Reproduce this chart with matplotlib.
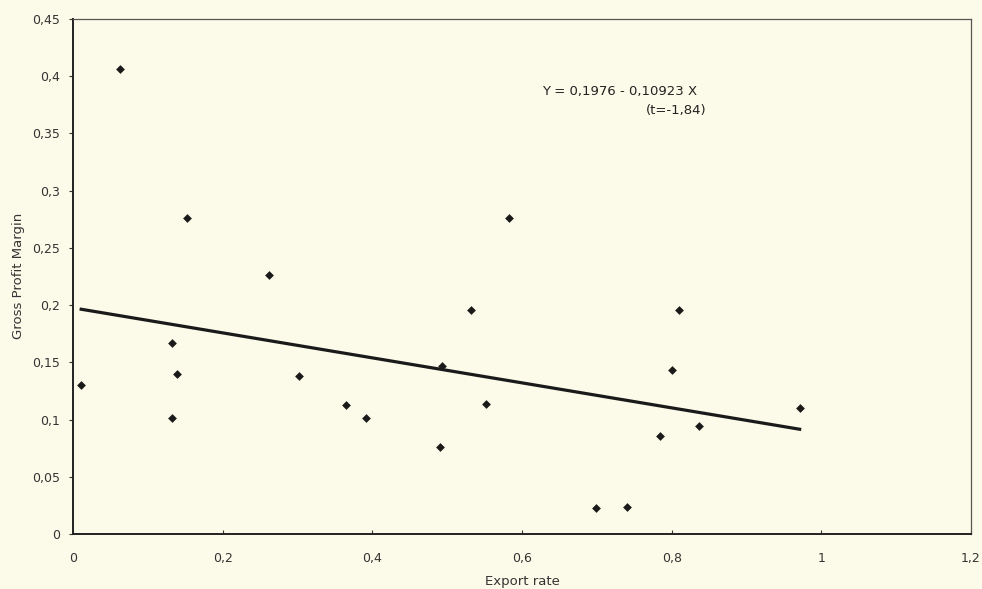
import matplotlib
matplotlib.use("Agg")
import matplotlib.pyplot as plt
import numpy as np

plt.rcParams['font.family'] = ['DejaVu Sans']

export_rate = [0.063, 0.153, 0.262, 0.011, 0.132, 0.139, 0.132, 0.302, 0.365,
               0.392, 0.493, 0.491, 0.532, 0.552, 0.583, 0.810, 0.800, 0.971,
               0.837, 0.784, 0.699, 0.740]
gross_margin = [0.406, 0.276, 0.226, 0.130, 0.167, 0.140, 0.101, 0.138, 0.113,
                0.101, 0.147, 0.076, 0.196, 0.114, 0.276, 0.196, 0.143, 0.110,
                0.094, 0.086, 0.023, 0.024]
intercept = 0.1976
slope = -0.10923
x_ticks = [0, 0.2, 0.4, 0.6, 0.8, 1.0, 1.2]
x_tick_labels = ["0", "0,2", "0,4", "0,6", "0,8", "1", "1,2"]
y_ticks = [0, 0.05, 0.1, 0.15, 0.2, 0.25, 0.3, 0.35, 0.4, 0.45]
y_tick_labels = ["0", "0,05", "0,1", "0,15", "0,2", "0,25", "0,3", "0,35", "0,4", "0,45"]

bg = "#fcfae8"
fig = plt.figure(figsize=(9.82, 5.89), dpi=100, facecolor=bg)
ax = fig.add_axes([0.0743, 0.0934, 0.9145, 0.8743], facecolor=bg)

ax.scatter(export_rate, gross_margin, marker="D", s=20, color="#1a1a1a", zorder=3, linewidths=0)
xl = np.array([min(export_rate), max(export_rate)])
ax.plot(xl, intercept + slope * xl, color="#1a1a1a", lw=2.3, zorder=2)

ax.set_xlim(0, 1.2)
ax.set_ylim(0, 0.45)
ax.set_xticks(x_ticks)
ax.set_xticklabels(x_tick_labels)
ax.set_yticks(y_ticks)
ax.set_yticklabels(y_tick_labels)
ax.tick_params(axis="x", direction="in", length=3, pad=13, labelsize=9, colors="#333333")
ax.tick_params(axis="y", direction="out", length=3, pad=6, labelsize=9, colors="#333333")

for side in ["left", "bottom"]:
    ax.spines[side].set_color("#222222")
    ax.spines[side].set_linewidth(1.4)
for side in ["top", "right"]:
    ax.spines[side].set_color("#555555")
    ax.spines[side].set_linewidth(0.9)

fig.text(522 / 982, (589 - 585) / 589, "Export rate", fontsize=9.5, color="#333333",
         ha="center", va="baseline")
fig.text(19 / 982, (589 - 276) / 589, "Gross Profit Margin", fontsize=9.5, color="#333333",
         ha="center", va="center", rotation=90)

ax.text(0.627, 0.387, "Y = 0,1976 - 0,10923 X", fontsize=9.5, color="#222222", ha="left", va="center")
ax.text(0.847, 0.370, "(t=-1,84)", fontsize=9.5, color="#222222", ha="right", va="center")

fig.savefig("out.png", dpi=100, facecolor=bg)
